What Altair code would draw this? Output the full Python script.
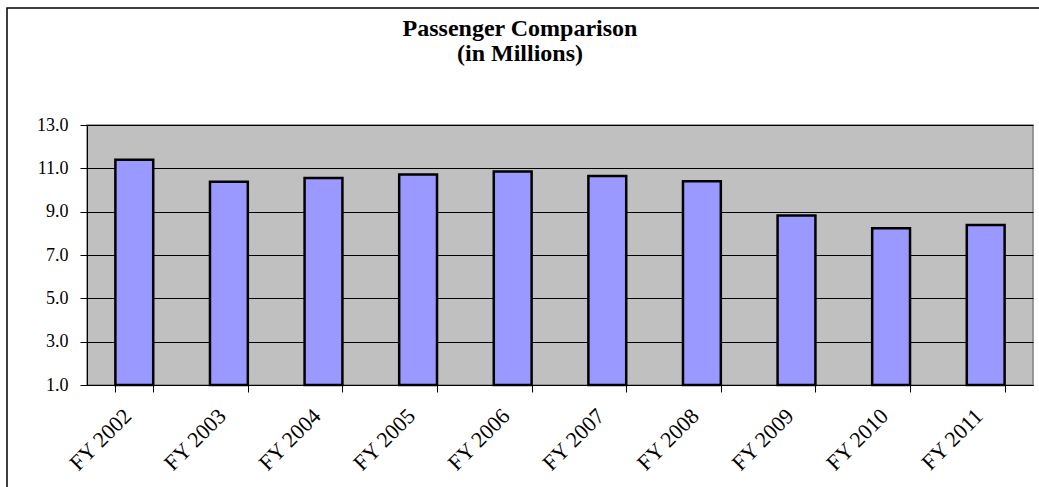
import altair as alt
import pandas as pd

years = ["FY 2002", "FY 2003", "FY 2004", "FY 2005", "FY 2006",
         "FY 2007", "FY 2008", "FY 2009", "FY 2010", "FY 2011"]
passengers = [11.40, 10.38, 10.55, 10.72, 10.85, 10.65, 10.40, 8.82, 8.23, 8.39]
y_ticks = [1, 3, 5, 7, 9, 11, 13]

df = pd.DataFrame({"year": years, "passengers": passengers})

FONT = "Liberation Serif"

bars = alt.Chart(df).mark_bar(
    fill="#9999FF", stroke="#000000", strokeWidth=2.5
).encode(
    x=alt.X("year:N", sort=years, title=None,
            scale=alt.Scale(paddingInner=0.6, paddingOuter=0.3),
            axis=alt.Axis(labelAngle=-45, labelAlign="right", labelBaseline="middle",
                          labelPadding=20, labelOffset=-7, tickBand="extent", tickSize=7,
                          tickColor="#000000", domainColor="#000000",
                          labelFont=FONT, labelFontSize=22, labelColor="#000000",
                          grid=False)),
    y=alt.Y("passengers:Q", title=None,
            scale=alt.Scale(domain=[1, 13], zero=False, nice=False),
            axis=alt.Axis(values=y_ticks, format=".1f", tickSize=7,
                          tickColor="#000000", domainColor="#000000",
                          labelFont=FONT, labelFontSize=18, labelColor="#000000",
                          labelPadding=12, grid=True, gridColor="#000000",
                          gridWidth=1)),
    y2=alt.datum(1),
)

frame = alt.Chart(pd.DataFrame({"a": [0]})).mark_rect(
    fill=None, stroke="#000000", strokeWidth=1.5, clip=False
).encode(
    x=alt.value(-80), x2=alt.value(970),
    y=alt.value(-117), y2=alt.value(380),
)

chart = alt.layer(frame, bars).properties(
    width=946,
    height=260,
    autosize=alt.AutoSizeParams(type="none"),
    padding={"left": 87, "top": 125, "right": 6, "bottom": 102},
    background="#FFFFFF",
    title=alt.TitleParams(
        text=["Passenger Comparison", "(in Millions)"],
        font=FONT, fontSize=24, fontWeight="bold", color="#000000",
        anchor="middle", frame="group", dx=-40, offset=-78, baseline="alphabetic",
        lineHeight=25,
    ),
).configure_view(
    fill="#C0C0C0", stroke="#808080", strokeWidth=1.5
)

chart.save("out.html", embed_options={"renderer": "svg", "actions": False})
